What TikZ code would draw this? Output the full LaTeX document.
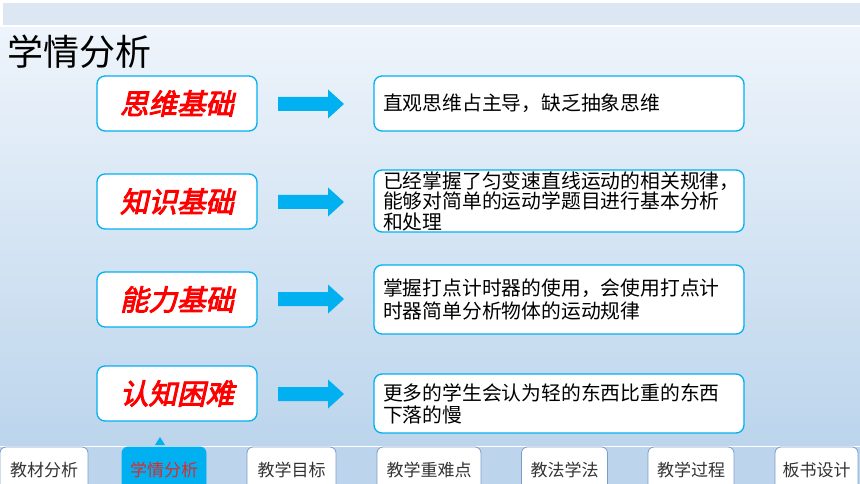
\documentclass[tikz,border=0pt]{standalone}
\usepackage{fontspec}
\newfontfamily\cjk{Noto Sans CJK SC}
\newfontfamily\cjkhead[FakeSlant=0.22,FakeBold=3.2]{Noto Sans CJK SC}
\definecolor{cyanb}{HTML}{00B0F0}
\definecolor{bgtop}{HTML}{EEF4FB}
\definecolor{bgbot}{HTML}{BCD5EC}
\definecolor{band}{HTML}{DCE7F3}
\definecolor{tabline}{HTML}{7C9CC8}
\definecolor{tabtext}{HTML}{333333}
\definecolor{redhead}{HTML}{FF0000}
\definecolor{redtab}{HTML}{E02828}
\tikzset{
  leftbox/.style={draw=cyanb, line width=1.3pt, fill=white, rounded corners=8pt,
    minimum width=160pt, minimum height=55pt, inner sep=0pt,
    font=\cjkhead\fontsize{28.5}{28.5}\selectfont, text=redhead},
  rightbox/.style={draw=cyanb, line width=1.3pt, fill=white, rounded corners=8pt,
    minimum width=370pt, inner xsep=9pt, inner ysep=0pt, text width=352pt, align=left,
    font=\cjk\fontsize{19.8}{21}\selectfont, text=black},
  tabbox/.style={draw=tabline, line width=0.8pt, fill=white, rounded corners=6pt,
    minimum height=50pt, inner sep=0pt, font=\cjk\fontsize{17}{17}\selectfont, text=tabtext},
  acttab/.style={tabbox, draw=cyanb, fill=cyanb, text=redtab},
  blockarr/.style={fill=cyanb}
}
\begin{document}
\begin{tikzpicture}[x=1pt,y=-1pt]
\useasboundingbox (0,0) rectangle (860,484);
\clip (0,0) rectangle (860,484);
\fill[white] (0,0) rectangle (860,484);
\fill[band] (3,3) rectangle (860,25);
\shade[top color=bgtop, bottom color=bgbot] (0,28) rectangle (860,445);
\fill[bgbot] (0,447) rectangle (860,484);

\node[anchor=west, inner sep=0pt, font=\cjk\fontsize{36}{36}\selectfont] (title) at (7,52) {学情分析};

% left boxes
\node[leftbox] (l1) at (177,103.5) {思维基础};
\node[leftbox] (l2) at (177,201.5) {知识基础};
\node[leftbox] (l3) at (177,299.5) {能力基础};
\node[leftbox] (l4) at (177,393.5) {认知困难};

% right boxes
\node[rightbox, minimum height=55pt] (r1) at (559,103.5) {直观思维占主导，缺乏抽象思维};
\node[rightbox, minimum height=62pt, font=\cjk\fontsize{19.8}{20.5}\selectfont] (r2) at (559,201) {已经掌握了匀变速直线运动的相关规律，\\能够对简单的运动学题目进行基本分析\\和处理};
\node[rightbox, minimum height=69pt, font=\cjk\fontsize{19.8}{23}\selectfont] (r3) at (559,299.5) {掌握打点计时器的使用，会使用打点计\\时器简单分析物体的运动规律};
\node[rightbox, minimum height=59pt, font=\cjk\fontsize{19.8}{22}\selectfont] (r4) at (559,403.5) {更多的学生会认为轻的东西比重的东西\\下落的慢};

% block arrows
\foreach \n/\c in {1/104,2/202,3/299,4/394}{
  \fill[blockarr] (278,\c-7) -- (328,\c-7) -- (328,\c-14.5) -- (344,\c) -- (328,\c+14.5) -- (328,\c+7) -- (278,\c+7) -- cycle;
}

% tabs
\node[tabbox, minimum width=88pt] (t1) at (44,472) {\raisebox{6pt}{教材分析}};
\node[acttab, minimum width=84pt] (t2) at (164,472) {\raisebox{6pt}{学情分析}};
\node[tabbox, minimum width=89pt] (t3) at (291.5,472) {\raisebox{6pt}{教学目标}};
\node[tabbox, minimum width=104pt] (t4) at (429,472) {\raisebox{6pt}{教学重难点}};
\node[tabbox, minimum width=86pt] (t5) at (564.5,472) {\raisebox{6pt}{教法学法}};
\node[tabbox, minimum width=86pt] (t6) at (691,472) {\raisebox{6pt}{教学过程}};
\node[tabbox, minimum width=83pt] (t7) at (816.5,472) {\raisebox{6pt}{板书设计}};
\fill[cyanb] (155,445) -- (160,437) -- (165,445) -- cycle;
\end{tikzpicture}
\end{document}
